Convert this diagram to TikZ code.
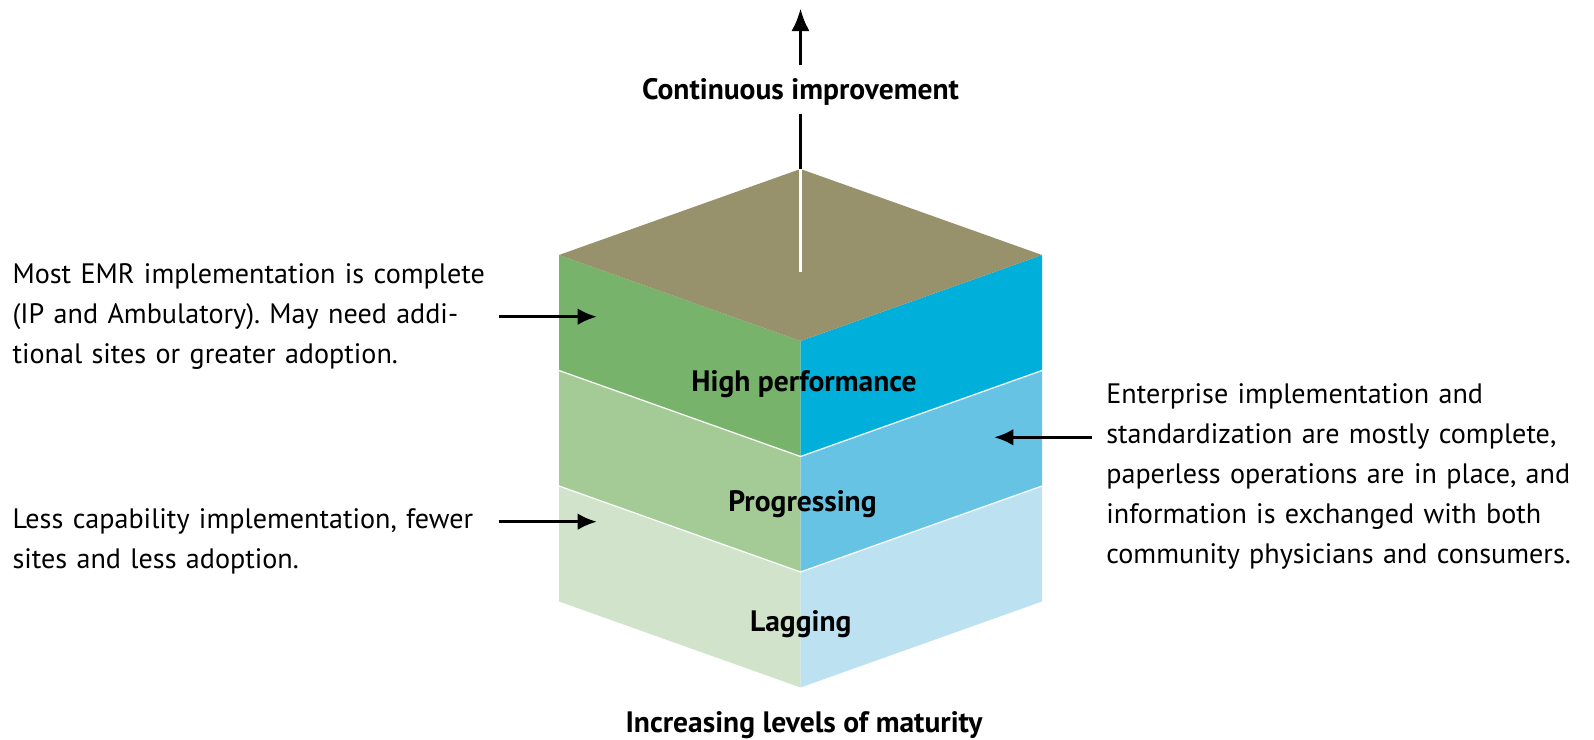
\documentclass[tikz,border=0pt]{standalone}
\usepackage{fontspec}
\setmainfont{PT Sans}
\usetikzlibrary{arrows.meta}

\definecolor{topface}{RGB}{151,145,108}
\definecolor{highL}{RGB}{119,179,106}
\definecolor{highR}{RGB}{0,175,218}
\definecolor{progL}{RGB}{164,203,150}
\definecolor{progR}{RGB}{102,195,228}
\definecolor{lagL}{RGB}{209,228,203}
\definecolor{lagR}{RGB}{188,226,241}

\begin{document}
\frenchspacing
\begin{tikzpicture}[x=0.2cm, y=0.2cm,
    note/.style={font=\fontsize{16}{22.8}\selectfont, align=left, inner sep=0pt},
    level/.style={font=\fontsize{16.8}{18}\selectfont\bfseries, inner sep=0pt},
    pointer/.style={-{Latex[length=11pt, width=9.5pt]}, line width=1.9pt},
    seam/.style={draw=white, line width=0.7pt}]
    \useasboundingbox (0,0) rectangle (159.4,74);

    % the three layers, bottom up
    \begin{scope}
        \fill [lagL] (55.9,13.85) -- (80.05,5.25) -- (80.05,16.8) -- (55.9,25.4) -- cycle;
        \fill [lagR] (80.05,5.25) -- (104.2,13.85) -- (104.2,25.4) -- (80.05,16.8) -- cycle;
        \fill [progL] (55.9,25.4) -- (80.05,16.8) -- (80.05,28.35) -- (55.9,36.95) -- cycle;
        \fill [progR] (80.05,16.8) -- (104.2,25.4) -- (104.2,36.95) -- (80.05,28.35) -- cycle;
        \fill [highL] (55.9,36.95) -- (80.05,28.35) -- (80.05,39.9) -- (55.9,48.5) -- cycle;
        \fill [highR] (80.05,28.35) -- (104.2,36.95) -- (104.2,48.5) -- (80.05,39.9) -- cycle;
        \fill [topface] (55.9,48.5) -- (80.05,57.1) -- (104.2,48.5) -- (80.05,39.9) -- cycle;
        \draw [seam] (55.9,25.4) -- (80.05,16.8) -- (104.2,25.4);
        \draw [seam] (55.9,36.95) -- (80.05,28.35) -- (104.2,36.95);
    \end{scope}

    \node[level, anchor=base] (high) at (80.4,34.83) {High performance};
    \node[level, anchor=base] (prog) at (80.25,22.83) {Progressing};
    \node[level, anchor=base] (lag) at (80.08,10.83) {Lagging};

    % continuous improvement arrow
    \coordinate (apex) at (80.05,57.1);
    \coordinate (apexend) at (80.05,46.8);
    \coordinate (tip) at (80.05,73.17);
    \node[level, anchor=base] (cont) at (80.05,64.0) {Continuous improvement};
    \draw [draw=white, line width=1.7pt] (apex) -- (apexend);
    \draw [line width=2.2pt, shorten >=4.5pt] (apex) -- (cont.south);
    \draw [-{Latex[length=13pt, width=10.5pt]}, line width=2.2pt, shorten <=7.5pt] (cont.north) -- (tip);

    % side notes
    \coordinate (high-in) at (59.7,42.33);
    \coordinate (lag-in) at (59.7,21.83);
    \coordinate (prog-in) at (99.4,30.27);

    \node[note, anchor=base west, text width=9.716cm] (emr) at (1.22,45.67)
        {Most EMR implementation is complete\\(IP and Ambulatory). May need addi-\\tional sites or greater adoption.};
    \node[note, anchor=base west, text width=9.716cm] (less) at (1.22,21.17)
        {Less capability implementation, fewer\\sites and less adoption.};
    \node[note, anchor=base west, text width=9.6cm] (ent) at (110.6,33.67)
        {Enterprise implementation and\\standardization are mostly complete,\\paperless operations are in place, and\\information is exchanged with both\\community physicians and consumers.};

    \draw [pointer] (emr.east |- high-in) -- (high-in);
    \draw [pointer] (less.east |- lag-in) -- (lag-in);
    \draw [pointer, shorten <=8pt] (ent.west |- prog-in) -- (prog-in);

    \node[level, anchor=base] (maturity) at (80.4,0.7) {Increasing levels of maturity};
\end{tikzpicture}
\end{document}
